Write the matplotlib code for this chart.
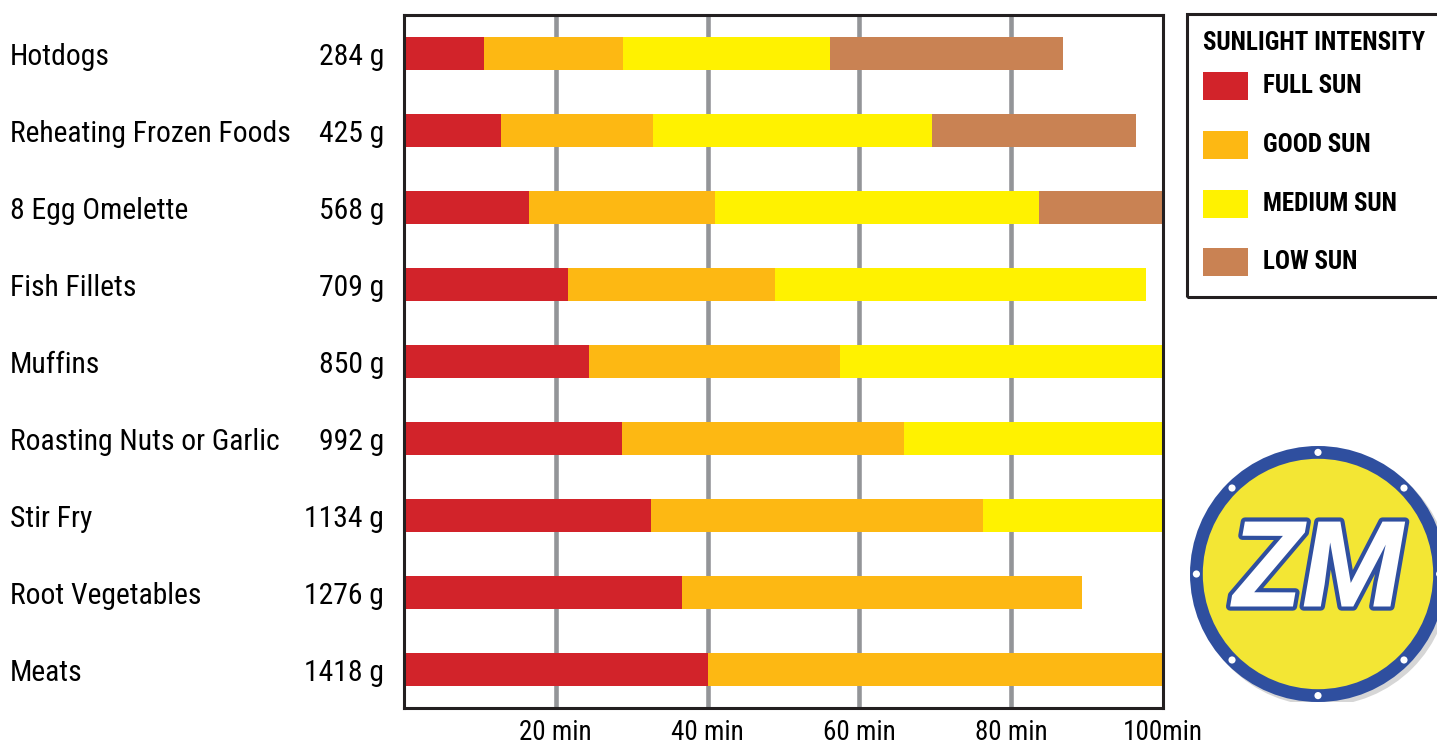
import matplotlib
matplotlib.use("Agg")
import matplotlib.pyplot as plt
import matplotlib.transforms as mtransforms
import matplotlib.patheffects as pe
from matplotlib.patches import Rectangle, Circle
import numpy as np

# ---------------- data ----------------
foods = ["Hotdogs", "Reheating Frozen Foods", "8 Egg Omelette", "Fish Fillets",
         "Muffins", "Roasting Nuts or Garlic", "Stir Fry", "Root Vegetables", "Meats"]
weights = ["284 g", "425 g", "568 g", "709 g", "850 g", "992 g", "1134 g", "1276 g", "1418 g"]
intensities = ["FULL SUN", "GOOD SUN", "MEDIUM SUN", "LOW SUN"]
colors = ["#D2232A", "#FDB813", "#FFF200", "#C98253"]
# minutes of cooking for each sunlight intensity (segment lengths)
full_sun = [10.5, 12.8, 16.5, 21.6, 24.4, 28.7, 32.5, 36.6, 40.0]
good_sun = [18.4, 20.0, 24.5, 27.3, 33.0, 37.2, 43.8, 52.7, 60.0]
medium_sun = [27.2, 36.8, 42.7, 48.9, 42.6, 34.1, 23.7, 0.0, 0.0]
low_sun = [30.7, 26.8, 16.3, 0.0, 0.0, 0.0, 0.0, 0.0, 0.0]
tick_values = [20, 40, 60, 80, 100]
tick_labels = ["20 min", "40 min", "60 min", "80 min", "100min"]
legend_title = "SUNLIGHT INTENSITY"

FONT = ["Roboto Condensed", "Archivo Narrow", "Liberation Sans", "DejaVu Sans"]
plt.rcParams["font.family"] = FONT

W, H = 1437, 747
fig = plt.figure(figsize=(W / 100, H / 100), dpi=100)

def px(x0, y0, x1, y1):
    return [x0 / W, 1 - y1 / H, (x1 - x0) / W, (y1 - y0) / H]

ax = fig.add_axes(px(404, 15, 1163, 708))
ypos = np.arange(len(foods))
series = [full_sun, good_sun, medium_sun, low_sun]
left = np.zeros(len(foods))
for vals, col, lab in zip(series, colors, intensities):
    v = np.array(vals)
    ax.barh(ypos, v, left=left, height=0.43, color=col, label=lab, zorder=3, linewidth=0)
    left = left + v

ax.set_xlim(0, 100)
ax.set_ylim(len(foods) - 0.5, -0.5)
for t in tick_values[:-1]:
    ax.axvline(t, color="#939598", lw=3.3, zorder=1)
ax.set_xticks(tick_values)
ax.set_xticklabels(tick_labels, fontsize=19.5)
ax.tick_params(axis="x", length=0, pad=8)
ax.set_yticks([])
for s in ax.spines.values():
    s.set_linewidth(2.2)
    s.set_color("#231F20")
    s.set_zorder(5)

trans = mtransforms.blended_transform_factory(fig.transFigure, ax.transData)
for i, (f, w) in enumerate(zip(foods, weights)):
    ax.text(10 / W, i + 0.04, f, transform=trans, ha="left", va="center", fontsize=21.3, clip_on=False)
    ax.text(384 / W, i + 0.04, w, transform=trans, ha="right", va="center", fontsize=21.3, clip_on=False)

# ---------------- legend ----------------
fig.patches.append(Rectangle((1187 / W, 1 - 297 / H), 260 / W, 283 / H, transform=fig.transFigure,
                             fill=False, edgecolor="#231F20", lw=2.2))
fig.text(1203 / W, 1 - 43 / H, legend_title, fontsize=18, fontweight="bold", ha="left", va="center")
row_y = [86, 145, 204, 262]
for lab, col, yy in zip(intensities, colors, row_y):
    fig.patches.append(Rectangle((1203 / W, 1 - (yy + 14) / H), 45 / W, 28 / H,
                                 transform=fig.transFigure, color=col, lw=0))
    fig.text(1263 / W, 1 - yy / H, lab, fontsize=18, fontweight="bold", ha="left", va="center")

# ---------------- logo ----------------
lax = fig.add_axes(px(1190, 446, 1446, 702))
lax.set_xlim(-1, 1)
lax.set_ylim(-1, 1)
lax.set_aspect("equal")
lax.axis("off")
lax.add_patch(Circle((0.03, -0.03), 1.0, color="#8a8a8a", alpha=0.35, lw=0))
lax.add_patch(Circle((0, 0), 1.0, color="#2F4F9F", lw=0))
lax.add_patch(Circle((0, 0), 0.90, color="#F3E634", lw=0))
for a in np.arange(0, 360, 45):
    r = np.deg2rad(a + 90)
    lax.add_patch(Circle((0.95 * np.cos(r), 0.95 * np.sin(r)), 0.028, color="white", lw=0))
lax.text(0.0, 0.0, "ZM", ha="center", va="center", fontsize=86, fontweight="bold",
         style="italic", color="white", family=["Roboto", "Liberation Sans", "DejaVu Sans"],
         path_effects=[pe.withStroke(linewidth=6, foreground="#2F4F9F")])

fig.savefig("out.png", dpi=100)
